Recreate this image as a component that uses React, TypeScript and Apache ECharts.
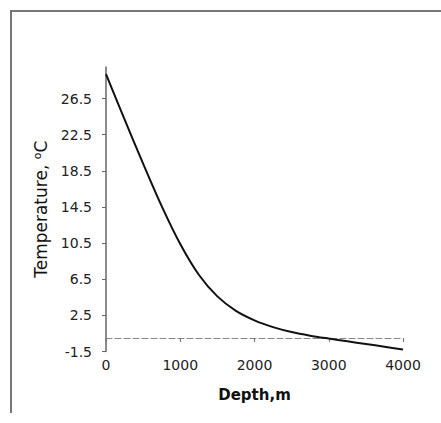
import React, { useEffect, useRef } from "react";
import * as echarts from "echarts";

const depths = [0, 250, 500, 750, 1000, 1250, 1500, 1750, 2000, 2250, 2500, 2750, 3000, 3250, 3500, 3750, 4000];
const temps = [29.2, 24.2, 19.3, 14.6, 10.4, 7.0, 4.6, 3.0, 1.95, 1.2, 0.65, 0.25, -0.07, -0.37, -0.67, -0.97, -1.27];
const yTicks = [-1.5, 2.5, 6.5, 10.5, 14.5, 18.5, 22.5, 26.5];
const xTicks = [0, 1000, 2000, 3000, 4000];

export default function App() {
  const ref = useRef<HTMLDivElement>(null);
  useEffect(() => {
    document.body.style.margin = "0";
    const chart = echarts.init(ref.current!, null, { renderer: "svg" });
    const font = "DejaVu Sans";
    chart.setOption({
      animation: false,
      backgroundColor: "#fff",
      grid: { left: 106, right: 38, top: 67, bottom: 71.5 },
      graphic: [
        {
          type: "polyline",
          shape: { points: [[11, 413], [11, 11], [441, 11]] },
          style: { stroke: "#777", lineWidth: 2, fill: "none" },
          silent: true,
        },
      ],
      xAxis: [
        {
          type: "value",
          min: 0,
          max: 4000,
          interval: 1000,
          position: "bottom",
          axisLine: { show: false, onZero: false },
          axisTick: { show: false },
          splitLine: { show: false },
          axisLabel: {
            customValues: xTicks,
            color: "#222",
            fontFamily: font,
            fontSize: 14,
            margin: 6,
            formatter: (v: number) => String(v),
          },
          name: "Depth,m",
          nameLocation: "middle",
          nameGap: 36,
          nameTextStyle: { color: "#111", fontFamily: font, fontSize: 15, fontWeight: "bold" },
        },
        {
          type: "value",
          min: 0,
          max: 4000,
          interval: 1000,
          position: "bottom",
          axisLine: { show: true, onZero: true, lineStyle: { color: "#888", width: 1.2, type: [6, 3] } },
          axisTick: { show: true, length: 4, lineStyle: { color: "#777", width: 1.2 } },
          splitLine: { show: false },
          axisLabel: { show: false },
        },
      ],
      yAxis: {
        type: "value",
        min: -1.5,
        max: 30,
        axisLine: { show: true, onZero: false, lineStyle: { color: "#666", width: 1.5 } },
        axisTick: { show: true, length: 4, customValues: yTicks, lineStyle: { color: "#666" } },
        splitLine: { show: false },
        axisLabel: {
          customValues: yTicks,
          color: "#222",
          fontFamily: font,
          fontSize: 14,
          margin: 14,
          formatter: (v: number) => v.toFixed(1),
        },
        name: "Temperature, {sup|o}C",
        nameLocation: "middle",
        nameGap: 56,
        nameRotate: 90,
        nameTextStyle: {
          color: "#111",
          fontFamily: font,
          fontSize: 17,
          rich: {
            sup: { fontFamily: font, fontSize: 11, color: "#111", verticalAlign: "top", padding: [0, 0, 7, 0] },
          },
        },
      },
      series: [
        {
          type: "line",
          xAxisIndex: 0,
          data: depths.map((d, i) => [d, temps[i]]),
          smooth: 0.3,
          showSymbol: false,
          lineStyle: { color: "#111", width: 2 },
        },
      ],
    });
    return () => chart.dispose();
  }, []);
  return <div ref={ref} style={{ width: 441, height: 423 }} />;
}
